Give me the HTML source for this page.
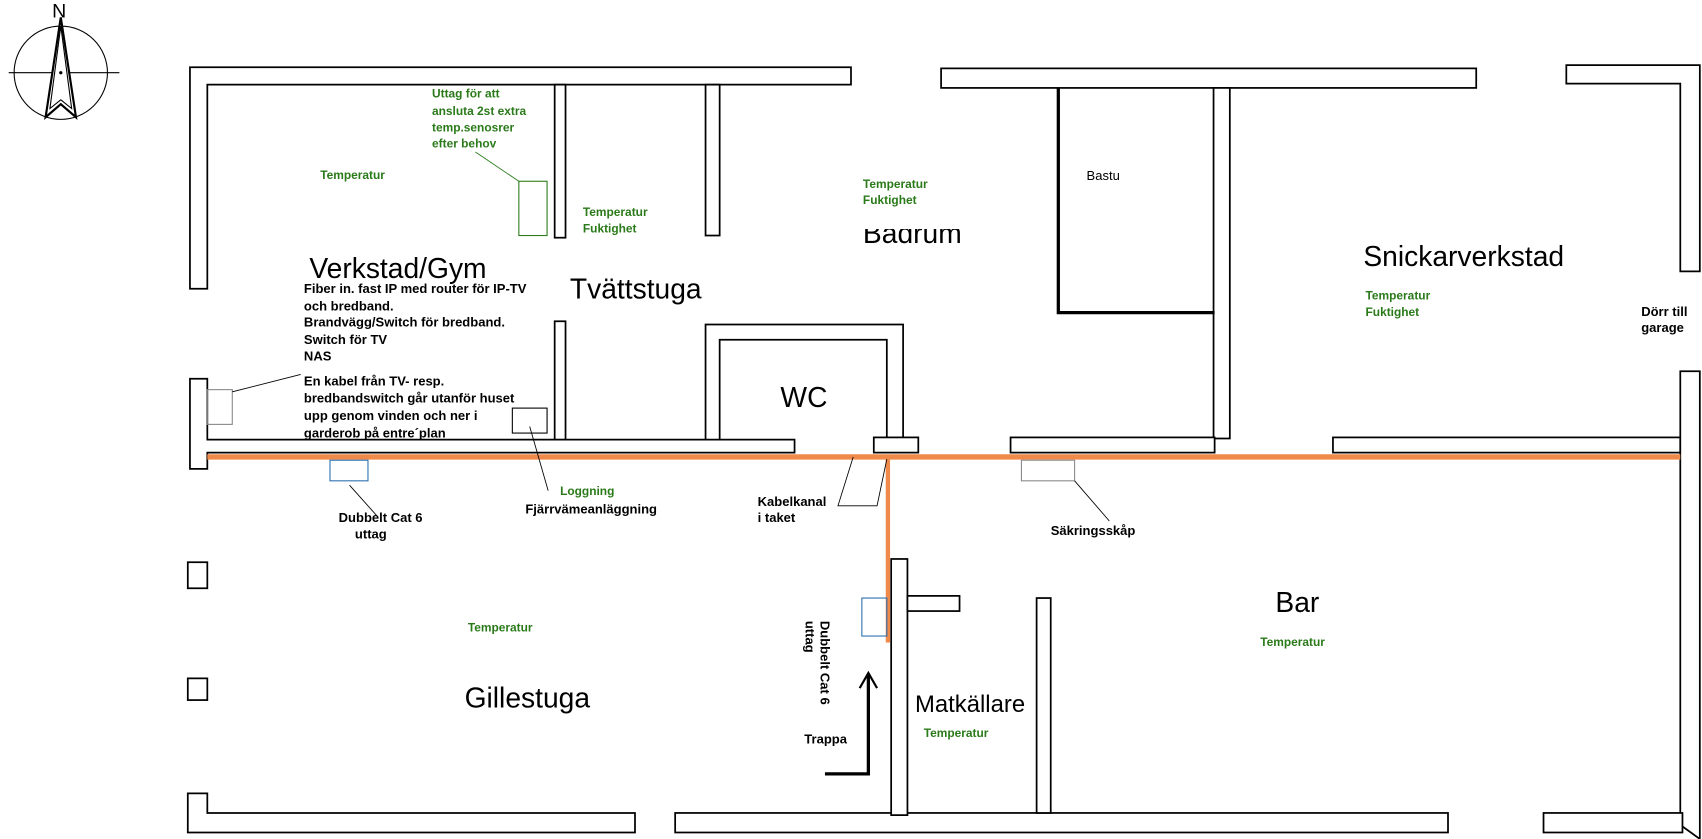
<!DOCTYPE html>
<html><head><meta charset="utf-8"><style>
html,body{margin:0;padding:0;background:#fff;}
svg{display:block}
.w{fill:#fff;stroke:#000;stroke-width:1.6}
.big{font-family:"Liberation Sans",sans-serif;font-size:26px;fill:#000}
.g{font-family:"Liberation Sans",sans-serif;font-size:11px;font-weight:bold;fill:#2a7a1a}
.b{font-family:"Liberation Sans",sans-serif;font-size:12px;font-weight:bold;fill:#000}
</style></head><body>
<svg width="1702" height="839" viewBox="0 0 1568 773" preserveAspectRatio="none">
<rect width="1568" height="773" fill="#fff"/>
<!-- compass -->
<circle cx="56" cy="67" r="43" fill="none" stroke="#000" stroke-width="1"/>
<line x1="8" y1="67" x2="110" y2="67" stroke="#000" stroke-width="1"/>
<polygon points="56,16 42,108 56,96 70,108" fill="#fff" stroke="#000" stroke-width="2"/>
<polygon points="56,24 46,100 56,92 66,100" fill="none" stroke="#000" stroke-width="1"/>
<circle cx="56" cy="67" r="1.5" fill="#000"/>
<text x="48" y="16" class="big" style="font-size:18px">N</text>
<!-- walls top -->
<path class="w" d="M175,62 H784 V78 H191 V266 H175 Z"/>
<rect class="w" x="511" y="78" width="10" height="141"/>
<rect class="w" x="650" y="78" width="13" height="139"/>
<rect class="w" x="867" y="63" width="493" height="18"/>
<rect class="w" x="1118" y="81" width="15" height="323"/>
<path d="M975,81 V288 H1119" fill="none" stroke="#000" stroke-width="3"/>
<path class="w" d="M1443,60 H1566 V250 H1548 V77 H1443 Z"/>
<!-- corridor -->
<path class="w" d="M175,349 H191 V405 H732 V417 H191 V432 H175 Z"/>
<rect class="w" x="511" y="296" width="10" height="109"/>
<path class="w" d="M650,405 V299 H832 V405 H817 V313 H663 V405 Z"/>
<rect class="w" x="805" y="403" width="41" height="14"/>
<rect class="w" x="931" y="403" width="188" height="14"/>
<rect class="w" x="1228" y="403" width="320" height="14"/>
<path class="w" d="M1548,342 H1566 V773 L1548,760 Z"/>
<!-- lower -->
<rect class="w" x="173" y="518" width="18" height="24"/>
<rect class="w" x="173" y="625" width="18" height="20"/>
<path class="w" d="M173,731 H191 V749 H585 V767 H173 Z"/>
<rect class="w" x="622" y="749" width="712" height="18"/>
<rect class="w" x="821" y="515" width="15" height="236"/>
<rect class="w" x="836" y="549" width="48" height="14"/>
<rect class="w" x="955" y="551" width="13" height="198"/>
<rect class="w" x="1422" y="749" width="128" height="18"/>
<!-- orange cable -->
<line x1="191" y1="421" x2="1548" y2="421" stroke="#f08a4b" stroke-width="5"/>
<line x1="818" y1="421" x2="818" y2="592" stroke="#f08a4b" stroke-width="4"/>
<!-- boxes -->
<rect x="478" y="167" width="26" height="50" fill="none" stroke="#2a7a1a" stroke-width="1"/>
<rect x="191" y="359" width="23" height="32" fill="none" stroke="#888" stroke-width="1"/>
<rect x="472" y="376" width="32" height="23" fill="none" stroke="#000" stroke-width="1"/>
<rect x="304" y="424" width="35" height="19" fill="none" stroke="#2a6fb0" stroke-width="1"/>
<rect x="941" y="424" width="49" height="19" fill="none" stroke="#888" stroke-width="1"/>
<rect x="794" y="551" width="23" height="35" fill="none" stroke="#2a6fb0" stroke-width="1"/>
<!-- leaders -->
<g stroke="#000" stroke-width="0.8" fill="none">
<line x1="438" y1="140" x2="478" y2="167" stroke="#2a7a1a"/>
<line x1="214" y1="361" x2="277" y2="345"/>
<line x1="488" y1="393" x2="505" y2="452"/>
<line x1="322" y1="447" x2="347" y2="475"/>
<path d="M786,421 L772,466 L808,466 L817,423"/>
<line x1="990" y1="443" x2="1022" y2="480"/>
</g>
<!-- trappa arrow -->
<path d="M760,713 H800 V622" fill="none" stroke="#000" stroke-width="3"/>
<path d="M792,634 L800,620 L808,634" fill="none" stroke="#000" stroke-width="2"/>
<!-- big labels -->
<text x="795" y="224" class="big">Badrum</text>
<rect x="793" y="160" width="100" height="51" fill="#fff"/>
<text x="285" y="256" class="big">Verkstad/Gym</text>
<text x="525" y="275" class="big">Tvättstuga</text>
<text x="1256" y="245" class="big">Snickarverkstad</text>
<text x="719" y="375" class="big">WC</text>
<text x="428" y="652" class="big">Gillestuga</text>
<text x="843" y="656" class="big" style="font-size:22px">Matkällare</text>
<text x="1175" y="564" class="big">Bar</text>
<!-- green -->
<text x="295" y="165" class="g">Temperatur</text>
<text class="g"><tspan x="398" y="90">Uttag för att</tspan><tspan x="398" y="106">ansluta 2st extra</tspan><tspan x="398" y="121">temp.senosrer</tspan><tspan x="398" y="136">efter behov</tspan></text>
<text class="g"><tspan x="537" y="199">Temperatur</tspan><tspan x="537" y="214">Fuktighet</tspan></text>
<text class="g"><tspan x="795" y="173">Temperatur</tspan><tspan x="795" y="188">Fuktighet</tspan></text>
<text class="g"><tspan x="1258" y="276">Temperatur</tspan><tspan x="1258" y="291">Fuktighet</tspan></text>
<text x="431" y="582" class="g">Temperatur</text>
<text x="1161" y="595" class="g">Temperatur</text>
<text x="851" y="679" class="g">Temperatur</text>
<text x="516" y="456" class="g">Loggning</text>
<!-- black -->
<text class="b"><tspan x="280" y="270">Fiber in. fast IP med router för IP-TV</tspan><tspan x="280" y="286">och bredband.</tspan><tspan x="280" y="301">Brandvägg/Switch för bredband.</tspan><tspan x="280" y="317">Switch för TV</tspan><tspan x="280" y="332">NAS</tspan><tspan x="280" y="355">En kabel från TV- resp.</tspan><tspan x="280" y="371">bredbandswitch går utanför huset</tspan><tspan x="280" y="387">upp genom vinden och ner i</tspan><tspan x="280" y="403">garderob på entre´plan</tspan></text>
<text x="484" y="473" class="b">Fjärrvämeanläggning</text>
<text class="b"><tspan x="312" y="481">Dubbelt Cat 6</tspan><tspan x="327" y="496">uttag</tspan></text>
<text class="b"><tspan x="698" y="466">Kabelkanal</tspan><tspan x="698" y="481">i taket</tspan></text>
<text x="968" y="493" class="b">Säkringsskåp</text>
<text class="b"><tspan x="1512" y="291">Dörr till</tspan><tspan x="1512" y="306">garage</tspan></text>
<text x="1001" y="166" class="b" style="font-weight:normal">Bastu</text>
<text x="741" y="685" class="b">Trappa</text>
<text class="b" transform="translate(756,572) rotate(90)"><tspan x="0" y="0">Dubbelt Cat 6</tspan><tspan x="0" y="14">uttag</tspan></text>
</svg>
</body></html>
